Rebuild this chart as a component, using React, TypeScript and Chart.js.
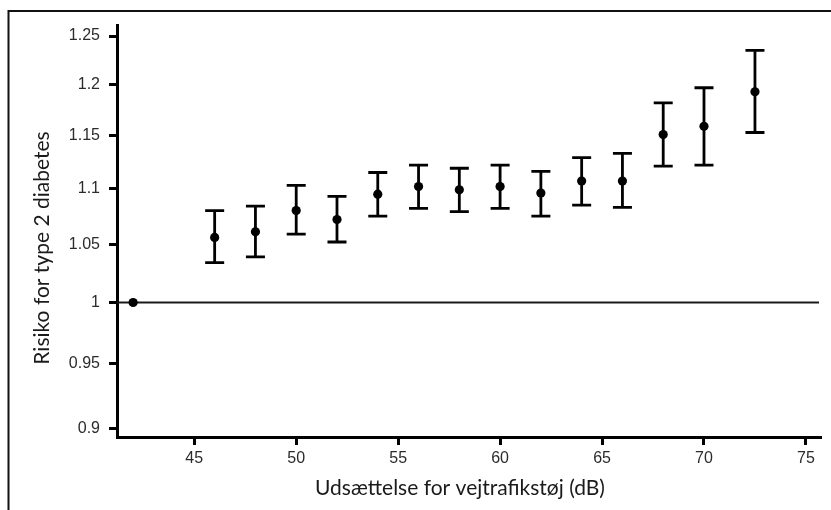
import React, { useEffect, useRef } from "react";
import { Chart, registerables } from "chart.js";

Chart.register(...registerables);

// Noise exposure (dB) categories
const noiseLevels = [42, 46, 48, 50, 52, 54, 56, 58, 60, 62, 64, 66, 68, 70, 72.5];
// Estimated risk ratios
const riskValues = [1.0, 1.056, 1.061, 1.08, 1.072, 1.095, 1.102, 1.099, 1.102, 1.096, 1.107, 1.107, 1.151, 1.159, 1.193];
// Confidence interval bounds
const lowerCI: (number | null)[] = [null, 1.034, 1.039, 1.059, 1.052, 1.075, 1.082, 1.079, 1.082, 1.075, 1.085, 1.083, 1.121, 1.122, 1.153];
const upperCI: (number | null)[] = [null, 1.08, 1.084, 1.103, 1.093, 1.115, 1.122, 1.119, 1.122, 1.116, 1.129, 1.133, 1.182, 1.197, 1.235];

// Tick values
const xTicks = [45, 50, 55, 60, 65, 70, 75];
const yTicks = [0.9, 0.95, 1, 1.05, 1.1, 1.15, 1.2, 1.25];
const yTickLabels = ["0.9", "0.95", "1", "1.05", "1.1", "1.15", "1.2", "1.25"];
const referenceValue = 1;

const xTitle = "Udsættelse for vejtrafikstøj (dB)";
const yTitle = "Risiko for type 2 diabetes";

const W = 831;
const H = 510;

export default function App() {
  const ref = useRef<HTMLCanvasElement | null>(null);

  useEffect(() => {
    if (!ref.current) return;

    const decorPlugin = {
      id: "decor",
      beforeDraw(chart: any) {
        const ctx = chart.ctx;
        ctx.save();
        ctx.fillStyle = "#fff";
        ctx.fillRect(0, 0, W, H);
        // outer frame (left and top edges visible)
        ctx.strokeStyle = "#111";
        ctx.lineWidth = 2;
        ctx.beginPath();
        ctx.moveTo(8.5, H);
        ctx.lineTo(8.5, 11);
        ctx.lineTo(W, 11);
        ctx.stroke();
        ctx.restore();
      },
      beforeDatasetsDraw(chart: any) {
        const ctx = chart.ctx;
        const xs = chart.scales.x;
        const ys = chart.scales.y;
        const area = chart.chartArea;
        ctx.save();
        // reference line
        const yRef = ys.getPixelForValue(referenceValue);
        ctx.strokeStyle = "#1a1a1a";
        ctx.lineWidth = 2;
        ctx.beginPath();
        ctx.moveTo(area.left, yRef);
        ctx.lineTo(area.right - 1, yRef);
        ctx.stroke();
        // error bars
        ctx.strokeStyle = "#000";
        ctx.lineWidth = 2.8;
        const capHalf = 9.5;
        for (let i = 0; i < noiseLevels.length; i++) {
          const lo = lowerCI[i];
          const hi = upperCI[i];
          if (lo == null || hi == null) continue;
          const px = xs.getPixelForValue(noiseLevels[i]);
          const pLo = ys.getPixelForValue(lo);
          const pHi = ys.getPixelForValue(hi);
          ctx.beginPath();
          ctx.moveTo(px, pLo);
          ctx.lineTo(px, pHi);
          ctx.moveTo(px - capHalf, pLo);
          ctx.lineTo(px + capHalf, pLo);
          ctx.moveTo(px - capHalf, pHi);
          ctx.lineTo(px + capHalf, pHi);
          ctx.stroke();
        }
        ctx.restore();
      },
      afterDraw(chart: any) {
        const ctx = chart.ctx;
        ctx.save();
        ctx.fillStyle = "#1a1a1a";
        ctx.font = "21px Lato";
        ctx.textAlign = "center";
        ctx.textBaseline = "middle";
        ctx.fillText(xTitle, 460, 488);
        ctx.translate(42, 248);
        ctx.rotate(-Math.PI / 2);
        ctx.fillText(yTitle, 0, 0);
        ctx.restore();
      },
    };

    const chart = new Chart(ref.current, {
      type: "scatter",
      data: {
        datasets: [
          {
            data: noiseLevels.map((x, i) => ({ x, y: riskValues[i] })),
            backgroundColor: "#000",
            borderColor: "#000",
            pointRadius: 4.6,
            pointHoverRadius: 4.6,
            pointBorderWidth: 0,
          },
        ],
      },
      options: {
        animation: false,
        responsive: false,
        devicePixelRatio: 1,
        layout: { padding: { left: 0, top: 25, right: 11, bottom: 0 } },
        plugins: { legend: { display: false }, tooltip: { enabled: false } },
        scales: {
          x: {
            type: "linear",
            min: 41.21,
            max: 75.69,
            bounds: "data",
            afterFit: (s: any) => {
              s.height = 73;
            },
            afterBuildTicks: (s: any) => {
              s.ticks = xTicks.map((v) => ({ value: v }));
            },
            ticks: {
              callback: (v: any) => String(v),
              font: { family: "Liberation Sans", size: 16 },
              color: "#2b2b2b",
              padding: 4,
              maxRotation: 0,
              autoSkip: false,
            },
            grid: {
              display: true,
              drawOnChartArea: false,
              drawTicks: true,
              tickLength: 8,
              tickWidth: 3,
              lineWidth: 3,
              tickColor: "#000",
              color: "#000",
            },
            border: { display: true, width: 3, color: "#000" },
          },
          y: {
            type: "logarithmic",
            min: 0.8935,
            max: 1.2616,
            bounds: "data",
            afterFit: (s: any) => {
              s.width = 117;
            },
            afterBuildTicks: (s: any) => {
              s.ticks = yTicks.map((v) => ({ value: v }));
            },
            ticks: {
              callback: (v: any, i: number) => yTickLabels[i],
              font: { family: "Liberation Sans", size: 16 },
              color: "#2b2b2b",
              padding: 9,
              autoSkip: false,
            },
            grid: {
              display: true,
              drawOnChartArea: false,
              drawTicks: true,
              tickLength: 8,
              tickWidth: 3,
              lineWidth: 3,
              tickColor: "#000",
              color: "#000",
            },
            border: { display: true, width: 3, color: "#000" },
          },
        },
      },
      plugins: [decorPlugin],
    });

    return () => chart.destroy();
  }, []);

  return (
    <div style={{ position: "absolute", left: 0, top: 0, width: W, height: H }}>
      <canvas ref={ref} width={W} height={H} style={{ display: "block" }} />
    </div>
  );
}
